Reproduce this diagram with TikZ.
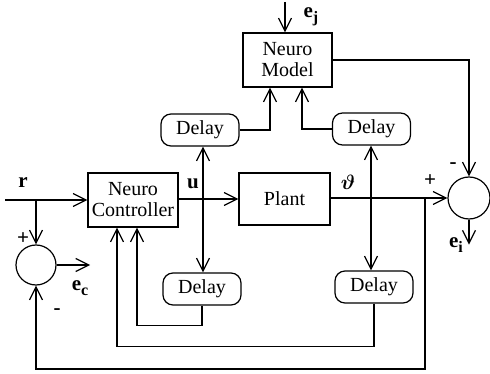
\documentclass[tikz,border=0pt]{standalone}
\usepackage{amsmath}
\usepackage{fontspec}
\setmainfont{Liberation Serif}
\usetikzlibrary{arrows.meta, positioning, calc}
\newcommand{\lsub}[1]{\raisebox{-5pt}{\fontsize{16}{16}\selectfont #1}}
\tikzset{
  block/.style = {rectangle, draw, line width=1.2pt, align=center,
                  inner sep=0pt, font=\fontsize{20}{21}\selectfont},
  dblock/.style= {rectangle, rounded corners=10pt, draw, line width=1.2pt,
                  minimum width=78pt, minimum height=32pt, inner sep=0pt,
                  font=\fontsize{20}{21}\selectfont},
  sumnode/.style={circle, draw, line width=1.2pt, inner sep=0pt},
  arrow/.style = {-{Straight Barb[length=13pt,width=13pt]}, line width=1.2pt},
  lbl/.style   = {font=\fontsize{21}{21}\selectfont\bfseries, inner sep=0pt},
}

\begin{document}
\begin{tikzpicture}[x=1pt, y=-1pt]
\useasboundingbox (0,0) rectangle (490,374);

% Blocks
\node[block, minimum width=89pt, minimum height=54pt] (model) at (287.5,60)  {Neuro\\Model};
\node[block, minimum width=90pt, minimum height=54pt] (ctrl)  at (133,200)   {Neuro\\Controller};
\node[block, minimum width=91pt, minimum height=52pt] (plant) at (284.5,199) {Plant};

% Delays
\node[dblock] (dtl) at (200,130)   {Delay};
\node[dblock] (dtr) at (371.5,129) {Delay};
\node[dblock] (dbl) at (202,289)   {Delay};
\node[dblock] (dbr) at (374,287)   {Delay};

% Summing junctions
\node[sumnode, minimum size=42pt] (sumr) at (469,198) {};
\node[sumnode, minimum size=40pt] (suml) at (36,265)  {};

% Branch points
\coordinate (rin) at (5,200);
\coordinate (jr)  at (36,200);
\coordinate (ju)  at (203,199);
\coordinate (jy)  at (371,198);
\coordinate (jb)  at (425,198);
\coordinate (ejin) at (285,2);
\coordinate (ecout) at (90,265);

% Forward path
\draw[arrow] (rin) -- (ctrl.west |- rin);
\draw[arrow] (ctrl.east |- plant) -- (plant.west);
\draw[arrow] (plant.east |- sumr) -- (sumr.west);

% Controller error
\draw[arrow] (jr) -- (suml.north);
\draw[arrow] (suml.east) -- (ecout);
\draw[arrow] (jb) -- ++(0,171) -| (suml.south);

% Delayed signals
\draw[arrow] (ju) -- (ju |- dtl.south);
\draw[arrow] (ju) -- (ju |- dbl.north);
\draw[arrow] (jy) -- (jy |- dtr.south);
\draw[arrow] (jy) -- (jy |- dbr.north);
\draw[arrow] (dtl.east) -| ([xshift=-17.5pt]model.south);
\draw[arrow] (dtr.west) -| ([xshift=14.5pt]model.south);
\draw[arrow] (dbl.south) -- ++(0,20) -| ([xshift=4pt]ctrl.south);
\draw[arrow] (dbr.south) -- ++(0,43) -| ([xshift=-16pt]ctrl.south);

% Model error
\draw[arrow] (ejin) -- (model.north -| ejin);
\draw[arrow] (model.east) -| (sumr.north);
\draw[arrow] (sumr.south) -- ++(0,25);

% Labels
\node[lbl] at (23,183)  {r};
\node[lbl] at (193,184) {u};
\node[lbl] at (348,182) {$\boldsymbol{\vartheta}$};
\node[lbl] at (311,17)  {e\lsub{j}};
\node[lbl] at (456,245) {e\lsub{i}};
\node[lbl] at (80,288)  {e\lsub{c}};
\node[lbl] at (430,181) {+};
\node[lbl] at (453,166) {-};
\node[lbl] at (23,239)  {+};
\node[lbl] at (57,312)  {-};
\end{tikzpicture}
\end{document}
